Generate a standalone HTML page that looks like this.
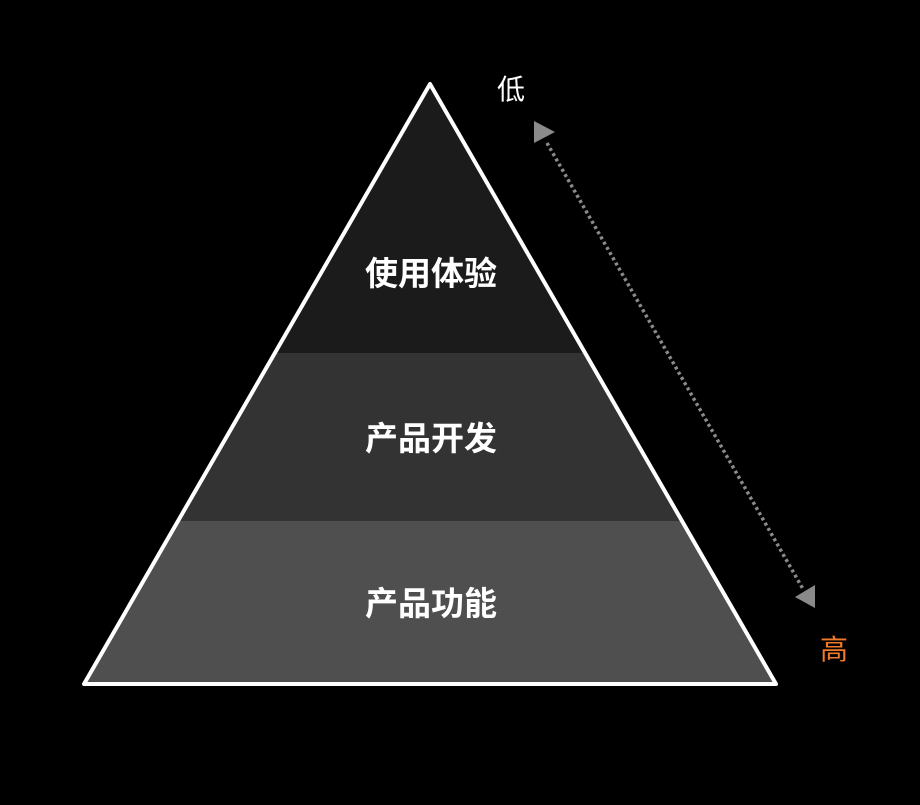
<!DOCTYPE html>
<html><head><meta charset="utf-8"><style>
body{margin:0;background:#000;width:920px;height:805px;overflow:hidden}
svg{display:block}
text{font-family:"Liberation Sans","Noto Sans CJK SC",sans-serif}
.b{font-weight:bold}
.n{font-weight:normal}
</style></head><body>
<svg width="920" height="805" viewBox="0 0 920 805">
<defs><clipPath id="t"><polygon points="430,84 84,684 776,684"/></clipPath></defs>
<g clip-path="url(#t)">
<rect x="0" y="0" width="920" height="353" fill="#1b1b1b"/>
<rect x="0" y="353" width="920" height="168" fill="#333333"/>
<rect x="0" y="521" width="920" height="170" fill="#4f4f4f"/>
</g>
<polygon points="430,84 84,684 776,684" fill="none" stroke="#fff" stroke-width="4" stroke-linejoin="round"/>
<text class="b" x="431" y="285" fill="#fff" font-size="33" text-anchor="middle">使用体验</text>
<text class="b" x="431" y="450" fill="#fff" font-size="33" text-anchor="middle">产品开发</text>
<text class="b" x="431" y="615" fill="#fff" font-size="33" text-anchor="middle">产品功能</text>
<text class="n" x="511" y="99" fill="#fff" font-size="28" text-anchor="middle">低</text>
<text class="n" x="834" y="659" fill="#f07a2a" font-size="28" text-anchor="middle">高</text>
<line x1="547" y1="143" x2="803" y2="589" stroke="#8a8a8a" stroke-width="3.5" stroke-dasharray="3,3"/>
<polygon points="534,121 534,143 555,132" fill="#8a8a8a"/>
<polygon points="815,585 815,608 795,597" fill="#8a8a8a"/>
</svg>
</body></html>
